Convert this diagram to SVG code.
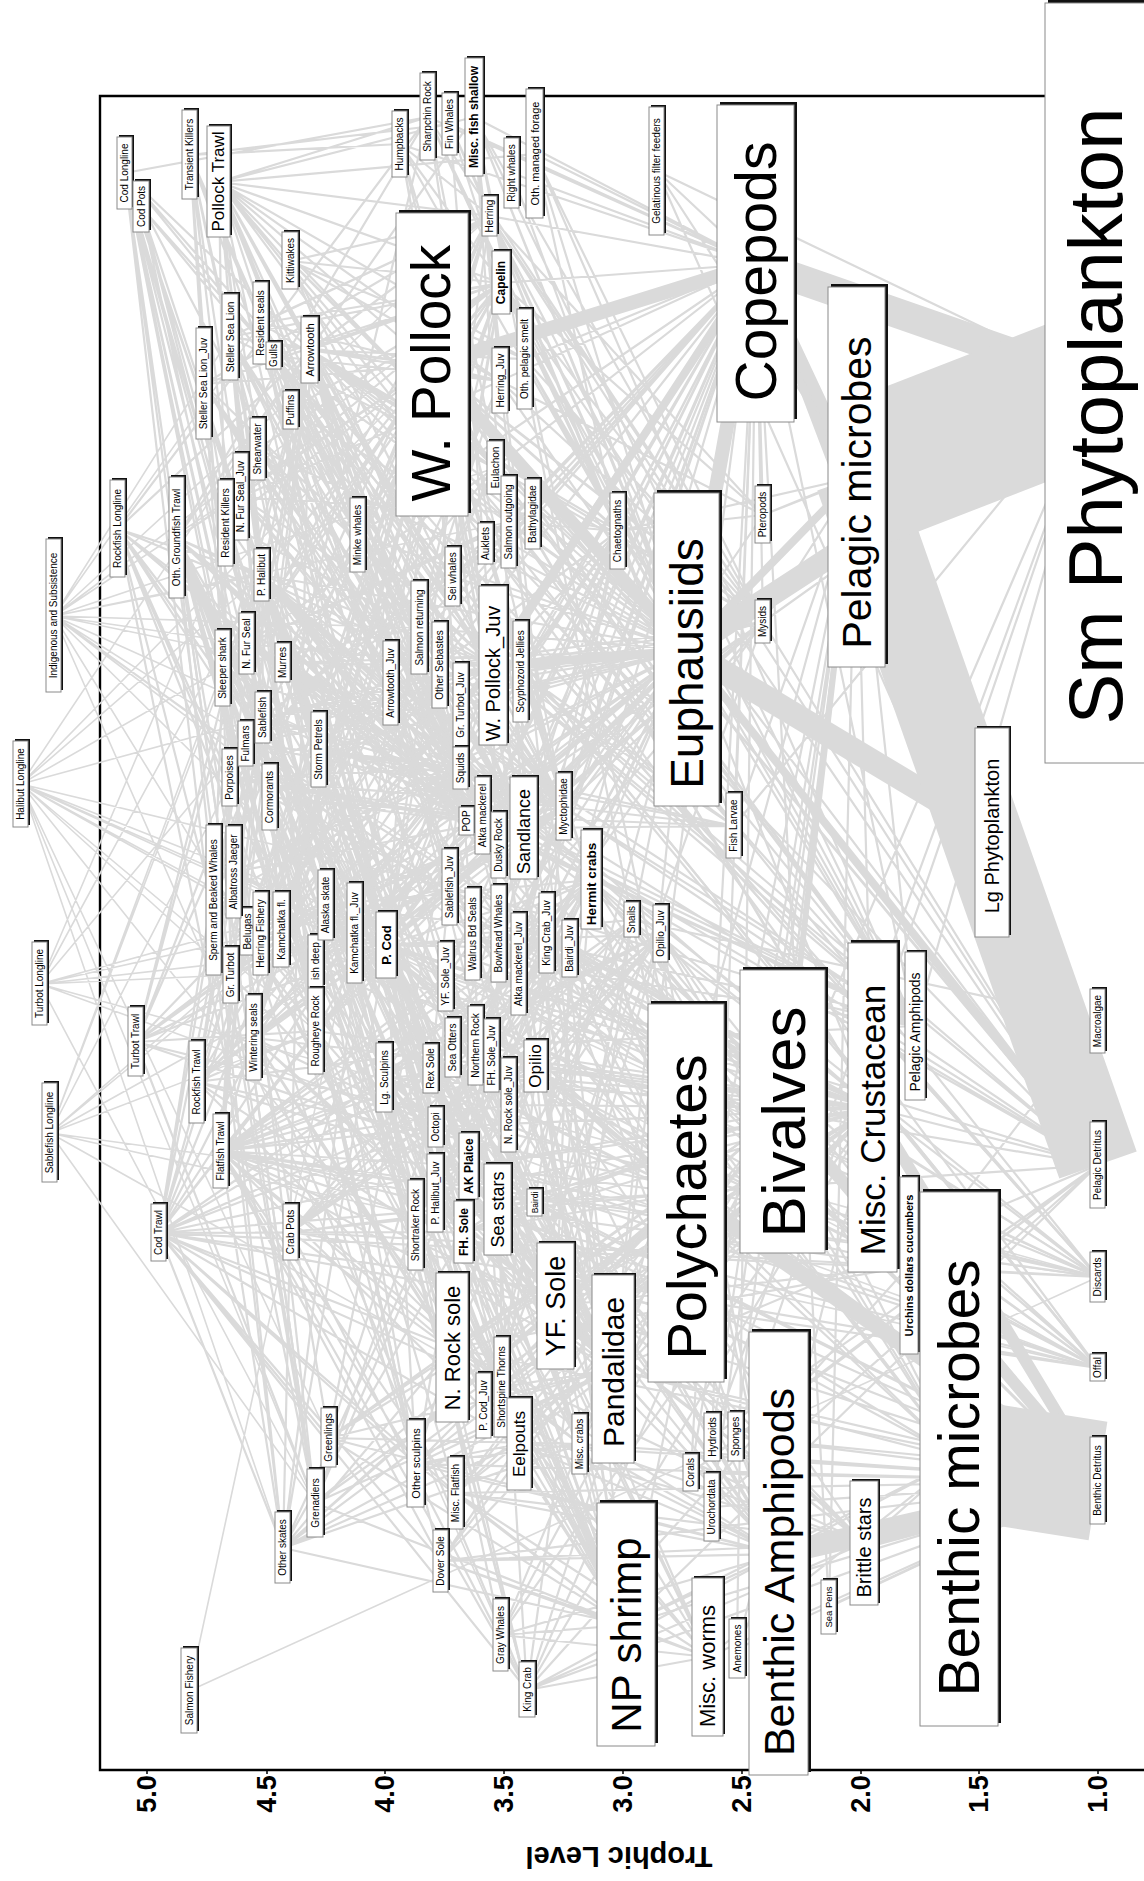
<svg xmlns="http://www.w3.org/2000/svg" width="1144" height="1881" viewBox="0 0 1144 1881">
<style>
.sh{fill:#111}
.bx{fill:#fff;stroke:#8a8a8a;stroke-width:1}
text{font-family:"Liberation Sans",Arial,Helvetica,sans-serif;text-anchor:middle;dominant-baseline:central;fill:#000}
.a{font-size:10px}
.b{font-size:11px}
.bd{font-weight:bold}
.l{fill:none;stroke:#dadada;stroke-width:2.2;stroke-linecap:round}
.f{stroke-width:1.6}
.w3{stroke-width:2.8}
.w6{stroke-width:6}
.w8{stroke-width:8;stroke-linecap:butt}
.w12{stroke-width:12;stroke-linecap:butt}
.w14{stroke-width:14;stroke-linecap:butt}
.w16{stroke-width:16;stroke-linecap:butt}
.w22{stroke-width:22;stroke-linecap:butt}
.w24{stroke-width:24;stroke-linecap:butt}
.w30{stroke-width:30;stroke-linecap:butt}
.w82{stroke-width:82;stroke-linecap:butt}
.w120{stroke-width:120;stroke-linecap:butt}
.w147{stroke-width:147;stroke-linecap:butt}
.ax{fill:none;stroke:#000;stroke-width:2.4}
.tk{font-size:27px;font-weight:bold}
</style>
<rect width="1144" height="1881" fill="#fff"/>
<g id="frame">
<path class="ax" d="M1160 96H100V1770H1160"/>
<path class="ax" style="stroke-width:1.5" d="M147 1770v4M267 1770v4M385 1770v4M504 1770v4M623 1770v4M742 1770v4M861 1770v4M979 1770v4M1098 1770v4"/>
</g>
<g id="connectors">
<path class="l f" d="M21 784L262 575M21 784L223 668M21 784L263 718M21 784L386 945M21 784L310 350M21 784L326 905M21 784L231 975M21 784L316 1031M21 784L315 1503M21 784L283 1548M21 784L281 930M21 784L1098 1277M21 784L1098 1368M54 616L230 337M54 616L261 323M54 616L490 216M54 616L419 628M54 616L262 575M54 616L386 945M54 616L248 932M54 616L473 934M54 616L499 934M54 616L247 644M54 616L283 663M54 616L527 1690M54 616L1098 1277M54 616L1098 1368M40 984L231 975M40 984L310 350M40 984L262 575M40 984L263 718M40 984L386 945M40 984L315 1503M40 984L326 905M40 984L281 930M40 984L1098 1277M40 984L1098 1368M50 1133L263 718M50 1133L231 975M50 1133L316 1031M50 1133L502 1387M50 1133L315 1503M50 1133L262 575M50 1133L326 905M50 1133L386 945M50 1133L223 668M50 1133L1098 1277M50 1133L1098 1368M189 1691L419 628M189 1691L1098 1277M21 784L432 365M21 784L329 1438M21 784L502 1387M21 784L450 887M54 616L432 365M54 616L501 283M54 616L524 828M54 616L495 468M54 616L509 522"/>
<path class="l" d="M125 173L386 945M125 173L262 575M125 173L263 718M125 173L231 975M125 173L310 350M125 173L326 905M125 173L281 930M125 173L283 1548M125 173L384 1078M125 173L416 1464M125 173L223 668M125 173L1098 1277M125 173L1098 1368M141 207L386 945M141 207L527 1690M141 207L416 1464M141 207L384 1078M141 207L1098 1277M141 207L1098 1368M219 182L432 365M219 182L493 666M219 182L490 216M219 182L501 283M219 182L483 816M219 182L386 945M219 182L310 350M219 182L461 768M219 182L316 1031M219 182L419 628M219 182L495 468M219 182L525 359M219 182L535 154M219 182L474 117M219 182L428 117M219 182L467 821M219 182L281 930M219 182L1098 1277M219 182L1098 1368M190 155L230 337M190 155L261 323M190 155L247 644M190 155L358 535M190 155L400 144M190 155L230 778M190 155L501 1635M190 155L248 932M190 155L473 934M190 155L204 384M190 155L241 497M190 155L450 124M190 155L254 1038M125 173L316 1031M125 173L315 1503M125 173L428 117M125 173L391 683M219 182L263 718M219 182L231 975M219 182L262 575M219 182L326 905M219 182L564 807M219 182L450 887M219 182L509 522M219 182L500 381"/>
<path class="l" d="M118 529L428 117M118 529L316 1031M118 529L502 1387M118 529L416 1225M118 529L440 665M118 529L499 845M118 529L467 821M118 529L476 1046M118 529L315 1503M118 529L1098 1277M118 529L1098 1368M177 538L440 665M177 538L499 845M177 538L428 117M177 538L476 1046M177 538L467 821M177 538L502 1387M177 538L416 1225M177 538L316 1031M177 538L315 1503M177 538L283 1548M177 538L329 1438M177 538L416 1464M177 538L384 1078M177 538L483 816M177 538L461 768M177 538L436 1127M177 538L474 117M177 538L316 960M177 538L1098 1277M177 538L1098 1368M136 1042L231 975M136 1042L310 350M136 1042L281 930M136 1042L326 905M136 1042L315 1503M136 1042L355 933M136 1042L461 705M136 1042L262 575M136 1042L1098 1277M136 1042L1098 1368M197 1082L467 821M197 1082L476 1046M197 1082L499 845M197 1082L316 1031M197 1082L416 1225M197 1082L428 117M197 1082L440 665M197 1082L483 816M197 1082L502 1387M197 1082L461 768M197 1082L1098 1277M197 1082L1098 1368M177 538L432 365M177 538L310 350M177 538L386 945M177 538L262 575M177 538L263 718M177 538L281 930M177 538L326 905M177 538L556 1306M177 538L452 1348M177 538L464 1232M177 538L469 1166M177 538L431 1069M177 538L441 1561M177 538L456 1493M118 529L386 945M118 529L262 575M118 529L263 718M118 529L231 975M118 529L310 350M136 1042L263 718M136 1042L316 1031M136 1042L386 945M136 1042L432 365M197 1082L386 945M197 1082L432 365M197 1082L310 350M197 1082L263 718"/>
<path class="l" d="M221 1151L556 1306M221 1151L452 1348M221 1151L464 1232M221 1151L469 1166M221 1151L431 1069M221 1151L441 1561M221 1151L456 1493M221 1151L386 945M221 1151L262 575M221 1151L310 350M221 1151L535 1202M221 1151L536 1066M221 1151L527 1690M221 1151L498 1210M221 1151L416 1464M221 1151L519 1444M221 1151L283 1548M221 1151L281 930M221 1151L1098 1277M221 1151L1098 1368M159 1233L386 945M159 1233L432 365M159 1233L262 575M159 1233L310 350M159 1233L263 718M159 1233L483 816M159 1233L556 1306M159 1233L452 1348M159 1233L464 1232M159 1233L326 905M159 1233L283 1548M159 1233L384 1078M159 1233L436 1127M159 1233L461 768M159 1233L469 1166M159 1233L431 1069M159 1233L1098 1277M159 1233L1098 1368M291 1232L527 1690M291 1232L535 1202M291 1232L536 1066M291 1232L547 933M291 1232L386 945M291 1232L591 880M291 1232L436 1127M291 1232L1098 1277M291 1232L1098 1368M261 934L490 216M261 934L500 381M261 934L501 283M261 934L1098 1277M261 934L1098 1368M221 1151L432 365M221 1151L263 718M221 1151L231 975M221 1151L492 1056M221 1151L446 977M221 1151L509 1105M221 1151L613 1369M221 1151L661 934M221 1151L547 933M221 1151L570 949M221 1151L591 880M221 1151L436 1127M221 1151L580 1444M159 1233L281 930M159 1233L231 975M159 1233L502 1387M159 1233L441 1561M159 1233L456 1493M159 1233L535 1202M159 1233L536 1066M159 1233L527 1690M159 1233L519 1444M159 1233L329 1438M159 1233L416 1464M291 1232L661 934M291 1232L570 949M291 1232L580 1444M291 1232L498 1210M291 1232L632 920"/>
<path class="l" d="M400 144L687 650M400 144L756 264M400 144L501 283M400 144L490 216M400 144L524 828M400 144L493 666M400 144L495 468M400 144L564 807M450 124L687 650M450 124L756 264M450 124L501 283M450 124L490 216M450 124L493 666M512 173L756 264M512 173L687 650M428 117L687 650M428 117L756 264M428 117L564 807M428 117L613 1369M428 117L618 531M428 117L763 622M474 117L687 650M474 117L756 264M474 117L873 1108M474 117L915 1026M474 117L779 1554M474 117L686 1193M474 117L763 622M535 154L687 650M535 154L756 264M535 154L915 1026M535 154L763 622M535 154L618 531M490 216L756 264M490 216L687 650M490 216L915 1026M490 216L618 531M490 216L734 826M490 216L763 515M490 216L763 622M501 283L756 264M501 283L687 650M501 283L915 1026M501 283L618 531M501 283L763 622M501 283L763 515M500 381L756 264M500 381L687 650M500 381L763 515M500 381L763 622M525 359L756 264M525 359L687 650M525 359L763 622M525 359L915 1026M657 171L856 477M657 171L1098 383M657 171L756 264M657 171L1098 1165M495 468L687 650M495 468L756 264M495 468L763 622M495 468L915 1026M474 117L613 1369M474 117L626 1625M474 117L524 828"/>
<path class="l" d="M290 261L501 283M290 261L524 828M290 261L500 381M290 261L564 807M290 261L493 666M290 261L687 650M290 261L525 359M290 261L495 468M290 261L490 216M230 337L432 365M230 337L483 816M230 337L386 945M230 337L490 216M230 337L524 828M230 337L419 628M230 337L461 768M230 337L501 283M230 337L495 468M230 337L436 1127M230 337L310 350M261 323L432 365M261 323L386 945M261 323L490 216M261 323L524 828M261 323L436 1127M261 323L461 768M261 323L501 283M261 323L495 468M261 323L419 628M274 356L493 666M274 356L524 828M274 356L501 283M274 356L500 381M274 356L564 807M274 356L687 650M274 356L1098 1368M274 356L1098 1277M310 350L432 365M310 350L493 666M310 350L687 650M310 350L501 283M310 350L500 381M310 350L461 768M310 350L564 807M310 350L613 1369M310 350L524 828M310 350L391 683M310 350L763 622M310 350L533 514M310 350L495 468M310 350L525 359M310 350L626 1625M310 350L490 216M310 350L618 531M204 384L432 365M204 384L493 666M204 384L524 828M204 384L501 283M204 384L490 216M204 384L461 768M204 384L483 816M291 410L493 666M291 410L524 828M291 410L501 283M291 410L564 807M291 410L687 650M291 410L461 768M258 449L687 650M258 449L524 828M258 449L564 807M258 449L461 768M258 449L493 666M258 449L501 283M241 497L493 666M241 497L461 768M241 497L524 828M241 497L501 283M241 497L533 514M241 497L564 807M241 497L500 381M226 523L419 628M226 523L386 945M226 523L262 575M226 523L263 718M226 523L432 365M358 535L687 650M358 535L756 264M358 535L493 666M358 535L501 283M358 535L524 828M358 535L490 216M230 337L467 821M230 337L499 845M230 337L476 1046M230 337L316 1031M230 337L263 718M230 337L281 930M230 337L262 575M261 323L483 816M261 323L467 821M261 323L519 1444M261 323L626 1625M261 323L613 1369M261 323L493 666M310 350L483 816M310 350L467 821M310 350L440 665M310 350L509 522M310 350L450 887M358 535L564 807M204 384L467 821M204 384L316 1031"/>
<path class="l" d="M262 575L432 365M262 575L386 945M262 575L310 350M262 575L613 1369M262 575L873 1108M262 575L452 1348M262 575L556 1306M262 575L464 1232M262 575L524 828M262 575L436 1127M262 575L461 768M262 575L493 666M262 575L591 880M262 575L626 1625M262 575L469 1166M262 575L431 1069M262 575L536 1066M262 575L535 1202M262 575L527 1690M262 575L263 718M223 668L432 365M223 668L461 768M223 668L263 718M223 668L310 350M223 668L419 628M223 668L315 1503M223 668L436 1127M223 668L467 821M247 644L493 666M247 644L461 768M247 644L524 828M247 644L501 283M247 644L490 216M247 644L483 816M247 644L509 522M247 644L533 514M247 644L564 807M283 663L493 666M283 663L524 828M283 663L501 283M283 663L687 650M283 663L564 807M283 663L461 768M283 663L613 1369M230 778L493 666M230 778L490 216M230 778L501 283M230 778L461 768M230 778L524 828M230 778L495 468M230 778L564 807M246 744L461 768M246 744L564 807M246 744L687 650M246 744L1098 1368M246 744L1098 1277M246 744L493 666M246 744L533 514M263 718L461 768M263 718L493 666M263 718L564 807M263 718L687 650M263 718L613 1369M263 718L509 522M263 718L533 514M263 718L436 1127M263 718L483 816M263 718L391 683M270 797L524 828M270 797L493 666M270 797L519 1444M270 797L416 1464M270 797L873 1108M270 797L626 1625M319 750L687 650M319 750L564 807M319 750L756 264M319 750L915 1026M319 750L734 826M319 750L461 768M214 900L461 768M214 900L223 668M214 900L315 1503M214 900L316 1031M214 900L263 718M234 872L461 768M234 872L564 807M234 872L687 650M234 872L1098 1277M234 872L1098 1368M248 932L419 628M248 932L490 216M248 932L626 1625M248 932L386 945M248 932L524 828M248 932L436 1127M248 932L495 468M262 575L547 933M262 575L570 949M262 575L661 934M262 575L519 1444M262 575L416 1464M262 575L580 1444M262 575L498 1210M262 575L686 1193M262 575L783 1112M262 575L483 816M262 575L467 821M262 575L499 845M262 575L316 1031M262 575L564 807M262 575L687 650M223 668L386 945M223 668L281 930M223 668L231 975M223 668L262 575M214 900L432 365M214 900L310 350M214 900L386 945M247 644L432 365M247 644L495 468M247 644L467 821M283 663L483 816M283 663L490 216M230 778L483 816M230 778L467 821M270 797L484 1406M270 797L613 1369M270 797L483 816M248 932L613 1369M248 932L519 1444M248 932L416 1464"/>
<path class="l" d="M281 930L432 365M281 930L493 666M281 930L613 1369M281 930L626 1625M281 930L687 650M281 930L501 283M281 930L564 807M281 930L461 768M326 905L432 365M326 905L386 945M326 905L626 1625M326 905L613 1369M326 905L873 1108M326 905L461 768M326 905L591 880M326 905L536 1066M326 905L535 1202M326 905L519 1444M326 905L686 1193M326 905L493 666M326 905L547 933M355 933L687 650M355 933L613 1369M355 933L763 622M355 933L626 1625M355 933L873 1108M355 933L564 807M386 945L432 365M386 945L493 666M386 945L613 1369M386 945L626 1625M386 945L536 1066M386 945L535 1202M386 945L591 880M386 945L873 1108M386 945L686 1193M386 945L524 828M386 945L547 933M386 945L519 1444M386 945L416 1464M386 945L464 1232M386 945L556 1306M386 945L452 1348M386 945L469 1166M386 945L483 816M386 945L461 768M386 945L436 1127M386 945L580 1444M386 945L783 1112M231 975L432 365M231 975L493 666M231 975L461 768M231 975L564 807M231 975L533 514M231 975L613 1369M231 975L687 650M231 975L391 683M231 975L315 1503M254 1038L432 365M254 1038L386 945M254 1038L436 1127M254 1038L461 768M254 1038L524 828M254 1038L626 1625M254 1038L613 1369M254 1038L873 1108M254 1038L519 1444M316 1031L687 650M316 1031L613 1369M316 1031L626 1625M316 1031L564 807M316 1031L873 1108M316 1031L461 768M316 960L687 650M316 960L613 1369M316 960L626 1625M316 960L873 1108M316 960L564 807M316 960L618 531M384 1078L613 1369M384 1078L626 1625M384 1078L873 1108M384 1078L591 880M384 1078L536 1066M384 1078L535 1202M384 1078L524 828M384 1078L686 1193M384 1078L580 1444M386 945L450 887M386 945L484 1406M386 945L435 1193M386 945L461 705M386 945L446 977M386 945L492 1056M386 945L509 1105M386 945L498 1210M386 945L570 949M386 945L661 934M386 945L499 845M386 945L476 1046M386 945L467 821M386 945L564 807M386 945L687 650M386 945L501 283M386 945L490 216M326 905L556 1306M326 905L452 1348M326 905L464 1232M326 905L779 1554M326 905L527 1690M254 1038L452 1348M254 1038L556 1306M254 1038L464 1232M254 1038L527 1690M254 1038L501 283M254 1038L490 216M254 1038L483 816M281 930L391 683M281 930L461 705M281 930L450 887M281 930L483 816M281 930L524 828M281 930L490 216M231 975L281 930M231 975L310 350M231 975L263 718M231 975L461 705M231 975L450 887M231 975L440 665M384 1078L556 1306M384 1078L452 1348M384 1078L547 933M384 1078L570 949M384 1078L661 934M384 1078L498 1210"/>
<path class="l" d="M329 1438L524 828M329 1438L613 1369M329 1438L626 1625M329 1438L873 1108M329 1438L686 1193M329 1438L779 1554M329 1438L580 1444M283 1548L613 1369M283 1548L626 1625M283 1548L873 1108M283 1548L686 1193M283 1548L580 1444M283 1548L519 1444M283 1548L591 880M283 1548L432 365M315 1503L461 768M315 1503L687 650M315 1503L613 1369M315 1503L626 1625M315 1503L873 1108M315 1503L564 807M315 1503L686 1193M416 1464L613 1369M416 1464L626 1625M416 1464L873 1108M416 1464L686 1193M416 1464L779 1554M416 1464L591 880M416 1464L580 1444M456 1493L686 1193M456 1493L783 1112M456 1493L779 1554M456 1493L873 1108M456 1493L626 1625M456 1493L708 1657M456 1493L864 1543M441 1561L686 1193M441 1561L779 1554M441 1561L783 1112M441 1561L708 1657M441 1561L864 1543M441 1561L873 1108M441 1561L626 1625M501 1635L779 1554M501 1635L686 1193M501 1635L873 1108M501 1635L783 1112M501 1635L708 1657M501 1635L626 1625M527 1690L783 1112M527 1690L686 1193M527 1690L864 1543M527 1690L909 1266M527 1690L708 1657M527 1690L779 1554M527 1690L873 1108M527 1690L632 920M527 1690L1098 1481M527 1690L498 1210M580 1444L686 1193M580 1444L783 1112M580 1444L779 1554M580 1444L1098 1481M580 1444L708 1657M580 1444L864 1543M519 1444L686 1193M519 1444L783 1112M519 1444L779 1554M519 1444L873 1108M519 1444L626 1625M519 1444L708 1657M519 1444L613 1369M519 1444L864 1543M484 1406L626 1625M484 1406L873 1108M484 1406L779 1554M484 1406L613 1369M484 1406L686 1193M484 1406L687 650M484 1406L763 622M502 1387L613 1369M502 1387L626 1625M502 1387L873 1108M502 1387L686 1193M502 1387L564 807M502 1387L493 666M502 1387L519 1444M502 1387L591 880M502 1387L461 768M283 1548L386 945M283 1548L310 350M283 1548L556 1306M283 1548L452 1348M283 1548L464 1232M283 1548L783 1112M329 1438L783 1112M416 1464L519 1444M416 1464L524 828M456 1493L613 1369M456 1493L661 934M452 1348L1098 1481M464 1232L1098 1481M469 1166L1098 1481M519 1444L1098 1481M416 1464L1098 1481M441 1561L1098 1481M456 1493L1098 1481"/>
<path class="l" d="M626 1625L959 1459M626 1625L1098 1481M626 1625L708 1657M626 1625L1098 1165M626 1625L779 1554M626 1625L856 477M708 1657L1098 1481M708 1657L959 1459M737 1649L1098 1481M737 1649L873 1108M737 1649L779 1554M737 1649L756 264M691 1473L756 264M691 1473L856 477M691 1473L1098 1165M691 1473L1098 1481M712 1507L856 477M712 1507L1098 383M712 1507L1098 1165M712 1507L1098 1481M712 1437L756 264M712 1437L856 477M712 1437L1098 383M712 1437L1098 1165M736 1437L856 477M736 1437L959 1459M736 1437L1098 1165M736 1437L1098 1481M613 1369L959 1459M613 1369L1098 1481M613 1369L686 1193M613 1369L779 1554M613 1369L873 1108M613 1369L856 477M613 1369L756 264M613 1369L687 650M452 1348L686 1193M452 1348L783 1112M452 1348L779 1554M452 1348L873 1108M452 1348L708 1657M452 1348L864 1543M452 1348L632 920M452 1348L909 1266M452 1348L591 880M446 977L779 1554M446 977L873 1108M446 977L686 1193M446 977L756 264M446 977L687 650M473 934L783 1112M473 934L686 1193M473 934L632 920M473 934L873 1108M473 934L909 1266M473 934L591 880M499 934L756 264M499 934L687 650M499 934L915 1026M499 934L763 622M499 934L873 1108M519 964L756 264M519 964L687 650M519 964L915 1026M519 964L763 622M519 964L618 531M547 933L959 1459M547 933L686 1193M547 933L783 1112M547 933L873 1108M547 933L1098 1481M547 933L779 1554M570 949L959 1459M570 949L686 1193M570 949L783 1112M570 949L1098 1481M570 949L779 1554M570 949L873 1108M661 934L959 1459M661 934L686 1193M661 934L783 1112M661 934L1098 1481M661 934L779 1554M632 920L1098 1481M632 920L959 1459M632 920L686 1193M632 920L1098 1021"/>
<path class="l" d="M431 1069L686 1193M431 1069L779 1554M431 1069L873 1108M431 1069L783 1112M431 1069L708 1657M431 1069L626 1625M453 1048L909 1266M453 1048L783 1112M453 1048L591 880M453 1048L632 920M453 1048L436 1127M453 1048L498 1210M453 1048L536 1066M453 1048L535 1202M476 1046L687 650M476 1046L756 264M476 1046L613 1369M476 1046L873 1108M476 1046L564 807M476 1046L915 1026M492 1056L779 1554M492 1056L756 264M492 1056L873 1108M492 1056L686 1193M492 1056L687 650M509 1105L779 1554M509 1105L756 264M509 1105L686 1193M509 1105L873 1108M536 1066L686 1193M536 1066L783 1112M536 1066L779 1554M536 1066L873 1108M536 1066L959 1459M536 1066L1098 1481M536 1066L632 920M536 1066L864 1543M536 1066L661 934M536 1066L591 880M436 1127L591 880M436 1127L547 933M436 1127L570 949M436 1127L661 934M436 1127L873 1108M436 1127L613 1369M436 1127L783 1112M436 1127L632 920M469 1166L686 1193M469 1166L783 1112M469 1166L779 1554M469 1166L873 1108M469 1166L864 1543M469 1166L708 1657M435 1193L613 1369M435 1193L626 1625M435 1193L873 1108M435 1193L524 828M435 1193L591 880M435 1193L580 1444M435 1193L446 977M416 1225L613 1369M416 1225L626 1625M416 1225L873 1108M416 1225L564 807M416 1225L461 768M416 1225L687 650M464 1232L686 1193M464 1232L613 1369M464 1232L626 1625M464 1232L779 1554M464 1232L873 1108M464 1232L783 1112M464 1232L661 934M464 1232L864 1543M498 1210L783 1112M498 1210L632 920M498 1210L686 1193M498 1210L909 1266M498 1210L864 1543M498 1210L1098 1481M498 1210L959 1459M535 1202L686 1193M535 1202L783 1112M535 1202L779 1554M535 1202L1098 1481M535 1202L959 1459M535 1202L864 1543M556 1306L686 1193M556 1306L783 1112M556 1306L779 1554M556 1306L873 1108M556 1306L864 1543M556 1306L708 1657M556 1306L626 1625M556 1306L687 650M556 1306L661 934M556 1306L591 880M556 1306L1098 1481M435 1193L547 933M435 1193L570 949M435 1193L661 934M435 1193L498 1210M556 1306L632 920M556 1306L547 933M556 1306L570 949M556 1306L536 1066M556 1306L498 1210M556 1306L909 1266M464 1232L536 1066M464 1232L535 1202M464 1232L547 933M464 1232L498 1210M469 1166L661 934M469 1166L632 920M469 1166L909 1266M453 1048L547 933M453 1048L570 949M453 1048L661 934M453 1048L580 1444M453 1048L613 1369"/>
<path class="l" d="M686 1193L959 1459M686 1193L1098 1165M783 1112L1098 383M783 1112L1098 1165M783 1112L959 1459M779 1554L959 1459M873 1108L959 1459M873 1108L1098 1165M873 1108L856 477M915 1026L756 264M915 1026L856 477M915 1026L687 650M915 1026L1098 383M909 1266L1098 1021M909 1266L1098 1481M909 1266L959 1459M829 1607L1098 1481M829 1607L856 477M829 1607L756 264M864 1543L959 1459M391 683L687 650M391 683L756 264M391 683L564 807M391 683L493 666M391 683L763 622M391 683L613 1369M419 628L687 650M419 628L756 264M419 628L501 283M419 628L500 381M419 628L493 666M419 628L461 768M419 628L564 807M419 628L524 828M440 665L687 650M440 665L756 264M440 665L564 807M440 665L613 1369M440 665L618 531M440 665L763 622M453 577L756 264M453 577L687 650M453 577L501 283M486 544L756 264M486 544L687 650M486 544L915 1026M486 544L564 807M486 544L734 826M509 522L687 650M509 522L756 264M509 522L915 1026M509 522L734 826M509 522L618 531M533 514L756 264M533 514L687 650M533 514L618 531M533 514L915 1026M618 531L756 264M618 531L856 477M618 531L1098 1165M493 666L915 1026M493 666L763 622M493 666L618 531M493 666L734 826M493 666L1098 1165M521 672L756 264M521 672L687 650M521 672L493 666M521 672L734 826M521 672L915 1026M521 672L618 531M521 672L1098 1165M461 705L687 650M461 705L756 264M461 705L763 622M461 705L564 807M461 768L687 650M461 768L756 264M461 768L564 807M461 768L493 666M461 768L618 531M467 821L687 650M467 821L756 264M467 821L618 531M467 821L564 807M467 821L915 1026M483 816L756 264M483 816L687 650M483 816L915 1026M483 816L618 531M483 816L734 826M483 816L763 622M499 845L687 650M499 845L756 264M499 845L763 622M524 828L756 264M524 828L687 650M524 828L915 1026M524 828L734 826M564 807L756 264M564 807L687 650M564 807L915 1026M564 807L618 531M564 807L1098 1165M591 880L1098 1481M591 880L959 1459M591 880L686 1193M591 880L783 1112M591 880L873 1108M450 887L687 650M450 887L756 264M450 887L564 807M450 887L915 1026M734 826L756 264M734 826L856 477M734 826L1098 383M763 622L756 264M763 622L856 477M763 622L1098 1165M763 622L1098 383M763 515L856 477M763 515L1098 383M763 515L756 264M461 768L613 1369M461 768L524 828M461 768L734 826M564 807L763 622M564 807L734 826M564 807L763 515M524 828L763 622M524 828L618 531M618 531L734 826M618 531L763 515M521 672L564 807M521 672L524 828M521 672L763 622M450 887L618 531M450 887L763 622M391 683L524 828M391 683L915 1026M419 628L483 816M419 628L495 468M591 880L632 920M591 880L909 1266M310 350L1098 1165M386 945L1098 1165M524 828L1098 1165M490 216L1098 1165M501 283L1098 1165M461 768L1098 1165M483 816L1098 1165M613 1369L1098 1165"/>
<path class="l w3" d="M432 365L613 1369M432 365L763 622M432 365L915 1026M432 365L618 531M432 365L564 807M432 365L461 768M432 365L524 828M432 365L501 283M432 365L626 1625M432 365L873 1108M432 365L686 1193M432 365L500 381M432 365L1098 1165"/>
<path class="l w6" d="M783 1112L856 477M756 264L992 833"/>
<path class="l w8" d="M493 666L756 264M493 666L687 650M756 264L1098 1165M687 650L1098 1165M687 650L856 477"/>
<path class="l w12" d="M432 365L687 650M756 264L856 477M783 1112L1098 1481M873 1108L1098 1481M864 1543L1098 1481"/>
<path class="l w14" d="M432 365L756 264M687 650L756 264"/>
<path class="l w16" d="M686 1193L1098 1481"/>
<path class="l w22" d="M779 1554L1098 1481M687 650L1098 383"/>
<path class="l w24" d="M687 650L992 833"/>
<path class="l w30" d="M756 264L1098 383"/>
<path class="l w120" d="M959 1459L1098 1481"/>
<path class="l w82" d="M856 477L1098 1165"/>
<path class="l w147" d="M856 477L1098 383"/>
</g>
<g id="nodes">
<g id="cod-longline"><rect class="sh" x="119" y="135" width="15" height="72"/><rect class="bx" x="117" y="137" width="15" height="72"/><text class="a" transform="translate(124.5 173)rotate(-90)">Cod Longline</text></g>
<g id="cod-pots"><rect class="sh" x="135" y="179" width="16" height="51"/><rect class="bx" x="133" y="181" width="16" height="51"/><text class="a" transform="translate(141 206.5)rotate(-90)">Cod Pots</text></g>
<g id="transient-killers"><rect class="sh" x="184" y="108" width="15" height="89"/><rect class="bx" x="182" y="110" width="15" height="89"/><text class="a" transform="translate(189.5 154.5)rotate(-90)">Transient Killers</text></g>
<g id="pollock-trawl"><rect class="sh" x="209" y="124" width="23" height="111"/><rect class="bx" x="207" y="126" width="23" height="111"/><text font-size="17" transform="translate(218.5 181.5)rotate(-90)">Pollock Trawl</text></g>
<g id="kittiwakes"><rect class="sh" x="284" y="230" width="16" height="57"/><rect class="bx" x="282" y="232" width="16" height="57"/><text class="a" transform="translate(290 260.5)rotate(-90)">Kittiwakes</text></g>
<g id="steller-sea-lion"><rect class="sh" x="224" y="292" width="16" height="86"/><rect class="bx" x="222" y="294" width="16" height="86"/><text class="a" transform="translate(230 337)rotate(-90)">Steller Sea Lion</text></g>
<g id="resident-seals"><rect class="sh" x="255" y="280" width="15" height="82"/><rect class="bx" x="253" y="282" width="15" height="82"/><text class="a" transform="translate(260.5 323)rotate(-90)">Resident seals</text></g>
<g id="gulls"><rect class="sh" x="268" y="340" width="15" height="27"/><rect class="bx" x="266" y="342" width="15" height="27"/><text class="a" transform="translate(273.5 355.5)rotate(-90)">Gulls</text></g>
<g id="arrowtooth"><rect class="sh" x="303" y="315" width="17" height="66"/><rect class="bx" x="301" y="317" width="17" height="66"/><text class="b" transform="translate(309.5 350)rotate(-90)">Arrowtooth</text></g>
<g id="steller-sea-lion-juv"><rect class="sh" x="198" y="326" width="15" height="111"/><rect class="bx" x="196" y="328" width="15" height="111"/><text class="a" transform="translate(203.5 383.5)rotate(-90)">Steller Sea Lion_Juv</text></g>
<g id="puffins"><rect class="sh" x="285" y="389" width="15" height="38"/><rect class="bx" x="283" y="391" width="15" height="38"/><text class="a" transform="translate(290.5 410)rotate(-90)">Puffins</text></g>
<g id="shearwater"><rect class="sh" x="252" y="416" width="15" height="62"/><rect class="bx" x="250" y="418" width="15" height="62"/><text class="a" transform="translate(257.5 449)rotate(-90)">Shearwater</text></g>
<g id="n-fur-seal-juv"><rect class="sh" x="235" y="451" width="15" height="87"/><rect class="bx" x="233" y="453" width="15" height="87"/><text class="a" transform="translate(240.5 496.5)rotate(-90)">N. Fur Seal_Juv</text></g>
<g id="humpbacks"><rect class="sh" x="394" y="109" width="15" height="66"/><rect class="bx" x="392" y="111" width="15" height="66"/><text class="a" transform="translate(399.5 144)rotate(-90)">Humpbacks</text></g>
<g id="sharpchin-rock"><rect class="sh" x="422" y="71" width="15" height="87"/><rect class="bx" x="420" y="73" width="15" height="87"/><text class="a" transform="translate(427.5 116.5)rotate(-90)">Sharpchin Rock</text></g>
<g id="fin-whales"><rect class="sh" x="444" y="91" width="15" height="62"/><rect class="bx" x="442" y="93" width="15" height="62"/><text class="a" transform="translate(449.5 124)rotate(-90)">Fin Whales</text></g>
<g id="misc-fish-shallow"><rect class="sh" x="467" y="56" width="18" height="118"/><rect class="bx" x="465" y="58" width="18" height="118"/><text class="bd" font-size="12" transform="translate(474 117)rotate(-90)">Misc. fish shallow</text></g>
<g id="right-whales"><rect class="sh" x="506" y="136" width="15" height="70"/><rect class="bx" x="504" y="138" width="15" height="70"/><text class="a" transform="translate(511.5 173)rotate(-90)">Right whales</text></g>
<g id="oth-managed-forage"><rect class="sh" x="528" y="87" width="17" height="129"/><rect class="bx" x="526" y="89" width="17" height="129"/><text class="b" transform="translate(534.5 153.5)rotate(-90)">Oth. managed forage</text></g>
<g id="herring"><rect class="sh" x="484" y="194" width="15" height="40"/><rect class="bx" x="482" y="196" width="15" height="40"/><text class="a" transform="translate(489.5 216)rotate(-90)">Herring</text></g>
<g id="capelin"><rect class="sh" x="494" y="249" width="18" height="63"/><rect class="bx" x="492" y="251" width="18" height="63"/><text class="bd" font-size="12" transform="translate(501 282.5)rotate(-90)">Capelin</text></g>
<g id="herring-juv"><rect class="sh" x="494" y="346" width="16" height="65"/><rect class="bx" x="492" y="348" width="16" height="65"/><text class="a" transform="translate(500 380.5)rotate(-90)">Herring_Juv</text></g>
<g id="oth-pelagic-smelt"><rect class="sh" x="519" y="307" width="15" height="100"/><rect class="bx" x="517" y="309" width="15" height="100"/><text class="a" transform="translate(524.5 359)rotate(-90)">Oth. pelagic smelt</text></g>
<g id="gelatinous-filter-feeders"><rect class="sh" x="651" y="105" width="15" height="128"/><rect class="bx" x="649" y="107" width="15" height="128"/><text class="a" transform="translate(656.5 171)rotate(-90)">Gelatinous filter feeders</text></g>
<g id="w-pollock"><rect class="sh" x="399" y="210" width="72" height="303"/><rect class="bx" x="396" y="213" width="72" height="303"/><text font-size="55" transform="translate(431 373)rotate(-90)">W. Pollock</text></g>
<g id="eulachon"><rect class="sh" x="489" y="439" width="16" height="53"/><rect class="bx" x="487" y="441" width="16" height="53"/><text class="a" transform="translate(495 467.5)rotate(-90)">Eulachon</text></g>
<g id="copepods"><rect class="sh" x="720" y="102" width="77" height="317"/><rect class="bx" x="717" y="105" width="77" height="317"/><text font-size="57" transform="translate(756 271.5)rotate(-90)">Copepods</text></g>
<g id="sm-phytoplankton"><rect class="sh" x="1048" y="0" width="120" height="760"/><rect class="bx" x="1045" y="3" width="120" height="760"/><text font-size="76" transform="translate(1095 416)rotate(-90)">Sm Phytoplankton</text></g>
<g id="pelagic-microbes"><rect class="sh" x="831" y="284" width="57" height="380"/><rect class="bx" x="828" y="287" width="57" height="380"/><text font-size="41" transform="translate(857 492.5)rotate(-90)">Pelagic microbes</text></g>
<g id="rockfish-longline"><rect class="sh" x="112" y="478" width="15" height="97"/><rect class="bx" x="110" y="480" width="15" height="97"/><text class="a" transform="translate(117.5 528.5)rotate(-90)">Rockfish Longline</text></g>
<g id="indigenous-and-subsistence"><rect class="sh" x="48" y="537" width="15" height="153"/><rect class="bx" x="46" y="539" width="15" height="153"/><text class="a" transform="translate(53.5 615.5)rotate(-90)">Indigenous and Subsistence</text></g>
<g id="oth-groundfish-trawl"><rect class="sh" x="171" y="475" width="15" height="121"/><rect class="bx" x="169" y="477" width="15" height="121"/><text class="a" transform="translate(176.5 537.5)rotate(-90)">Oth. Groundfish Trawl</text></g>
<g id="resident-killers"><rect class="sh" x="220" y="478" width="15" height="86"/><rect class="bx" x="218" y="480" width="15" height="86"/><text class="a" transform="translate(225.5 523)rotate(-90)">Resident Killers</text></g>
<g id="minke-whales"><rect class="sh" x="352" y="496" width="15" height="74"/><rect class="bx" x="350" y="498" width="15" height="74"/><text class="a" transform="translate(357.5 535)rotate(-90)">Minke whales</text></g>
<g id="p-halibut"><rect class="sh" x="256" y="547" width="15" height="52"/><rect class="bx" x="254" y="549" width="15" height="52"/><text class="a" transform="translate(261.5 575)rotate(-90)">P. Halibut</text></g>
<g id="sleeper-shark"><rect class="sh" x="217" y="628" width="15" height="76"/><rect class="bx" x="215" y="630" width="15" height="76"/><text class="a" transform="translate(222.5 668)rotate(-90)">Sleeper shark</text></g>
<g id="n-fur-seal"><rect class="sh" x="241" y="611" width="15" height="61"/><rect class="bx" x="239" y="613" width="15" height="61"/><text class="a" transform="translate(246.5 643.5)rotate(-90)">N. Fur Seal</text></g>
<g id="murres"><rect class="sh" x="277" y="641" width="15" height="39"/><rect class="bx" x="275" y="643" width="15" height="39"/><text class="a" transform="translate(282.5 662.5)rotate(-90)">Murres</text></g>
<g id="halibut-longline"><rect class="sh" x="15" y="739" width="15" height="86"/><rect class="bx" x="13" y="741" width="15" height="86"/><text class="a" transform="translate(20.5 784)rotate(-90)">Halibut Longline</text></g>
<g id="porpoises"><rect class="sh" x="224" y="747" width="15" height="57"/><rect class="bx" x="222" y="749" width="15" height="57"/><text class="a" transform="translate(229.5 777.5)rotate(-90)">Porpoises</text></g>
<g id="fulmars"><rect class="sh" x="240" y="719" width="15" height="45"/><rect class="bx" x="238" y="721" width="15" height="45"/><text class="a" transform="translate(245.5 743.5)rotate(-90)">Fulmars</text></g>
<g id="sablefish"><rect class="sh" x="257" y="690" width="15" height="51"/><rect class="bx" x="255" y="692" width="15" height="51"/><text class="a" transform="translate(262.5 717.5)rotate(-90)">Sablefish</text></g>
<g id="cormorants"><rect class="sh" x="264" y="762" width="15" height="66"/><rect class="bx" x="262" y="764" width="15" height="66"/><text class="a" transform="translate(269.5 797)rotate(-90)">Cormorants</text></g>
<g id="storm-petrels"><rect class="sh" x="313" y="710" width="15" height="75"/><rect class="bx" x="311" y="712" width="15" height="75"/><text class="a" transform="translate(318.5 749.5)rotate(-90)">Storm Petrels</text></g>
<g id="sperm-and-beaked-whales"><rect class="sh" x="208" y="823" width="15" height="150"/><rect class="bx" x="206" y="825" width="15" height="150"/><text class="a" transform="translate(213.5 900)rotate(-90)">Sperm and Beaked Whales</text></g>
<g id="belugas"><rect class="sh" x="242" y="906" width="15" height="47"/><rect class="bx" x="240" y="908" width="15" height="47"/><text class="a" transform="translate(247.5 931.5)rotate(-90)">Belugas</text></g>
<g id="albatross-jaeger"><rect class="sh" x="228" y="824" width="15" height="92"/><rect class="bx" x="226" y="826" width="15" height="92"/><text class="a" transform="translate(233.5 872)rotate(-90)">Albatross Jaeger</text></g>
<g id="herring-fishery"><rect class="sh" x="255" y="890" width="15" height="83"/><rect class="bx" x="253" y="892" width="15" height="83"/><text class="a" transform="translate(260.5 933.5)rotate(-90)">Herring Fishery</text></g>
<g id="kamchatka-fl"><rect class="sh" x="275" y="890" width="16" height="75"/><rect class="bx" x="273" y="892" width="16" height="75"/><text class="a" transform="translate(281 929.5)rotate(-90)">Kamchatka fl.</text></g>
<g id="misc-fish-deep"><rect class="sh" x="310" y="933" width="15" height="52"/><rect class="bx" x="308" y="935" width="15" height="52"/><text class="a" transform="translate(315.5 961)rotate(-90)">ish deep</text></g>
<g id="alaska-skate"><rect class="sh" x="320" y="868" width="15" height="70"/><rect class="bx" x="318" y="870" width="15" height="70"/><text class="a" transform="translate(325.5 905)rotate(-90)">Alaska skate</text></g>
<g id="kamchatka-fl-juv"><rect class="sh" x="349" y="881" width="15" height="100"/><rect class="bx" x="347" y="883" width="15" height="100"/><text class="a" transform="translate(354.5 933)rotate(-90)">Kamchatka fl._Juv</text></g>
<g id="p-cod"><rect class="sh" x="378" y="910" width="20" height="66"/><rect class="bx" x="376" y="912" width="20" height="66"/><text class="bd" font-size="13" transform="translate(386 945)rotate(-90)">P. Cod</text></g>
<g id="turbot-longline"><rect class="sh" x="34" y="940" width="15" height="83"/><rect class="bx" x="32" y="942" width="15" height="83"/><text class="a" transform="translate(39.5 983.5)rotate(-90)">Turbot Longline</text></g>
<g id="turbot-trawl"><rect class="sh" x="130" y="1005" width="15" height="69"/><rect class="bx" x="128" y="1007" width="15" height="69"/><text class="a" transform="translate(135.5 1041.5)rotate(-90)">Turbot Trawl</text></g>
<g id="sablefish-longline"><rect class="sh" x="44" y="1081" width="15" height="99"/><rect class="bx" x="42" y="1083" width="15" height="99"/><text class="a" transform="translate(49.5 1132.5)rotate(-90)">Sablefish Longline</text></g>
<g id="rockfish-trawl"><rect class="sh" x="191" y="1039" width="15" height="82"/><rect class="bx" x="189" y="1041" width="15" height="82"/><text class="a" transform="translate(196.5 1082)rotate(-90)">Rockfish Trawl</text></g>
<g id="flatfish-trawl"><rect class="sh" x="215" y="1112" width="15" height="74"/><rect class="bx" x="213" y="1114" width="15" height="74"/><text class="a" transform="translate(220.5 1151)rotate(-90)">Flatfish Trawl</text></g>
<g id="cod-trawl"><rect class="sh" x="153" y="1202" width="15" height="57"/><rect class="bx" x="151" y="1204" width="15" height="57"/><text class="a" transform="translate(158.5 1232.5)rotate(-90)">Cod Trawl</text></g>
<g id="crab-pots"><rect class="sh" x="285" y="1202" width="15" height="56"/><rect class="bx" x="283" y="1204" width="15" height="56"/><text class="a" transform="translate(290.5 1232)rotate(-90)">Crab Pots</text></g>
<g id="gr-turbot"><rect class="sh" x="225" y="945" width="15" height="56"/><rect class="bx" x="223" y="947" width="15" height="56"/><text class="a" transform="translate(230.5 975)rotate(-90)">Gr. Turbot</text></g>
<g id="wintering-seals"><rect class="sh" x="248" y="993" width="15" height="85"/><rect class="bx" x="246" y="995" width="15" height="85"/><text class="a" transform="translate(253.5 1037.5)rotate(-90)">Wintering seals</text></g>
<g id="rougheye-rock"><rect class="sh" x="310" y="986" width="15" height="86"/><rect class="bx" x="308" y="988" width="15" height="86"/><text class="a" transform="translate(315.5 1031)rotate(-90)">Rougheye Rock</text></g>
<g id="lg-sculpins"><rect class="sh" x="378" y="1041" width="16" height="69"/><rect class="bx" x="376" y="1043" width="16" height="69"/><text class="a" transform="translate(384 1077.5)rotate(-90)">Lg. Sculpins</text></g>
<g id="greenlings"><rect class="sh" x="323" y="1406" width="15" height="59"/><rect class="bx" x="321" y="1408" width="15" height="59"/><text class="a" transform="translate(328.5 1437.5)rotate(-90)">Greenlings</text></g>
<g id="salmon-fishery"><rect class="sh" x="183" y="1646" width="16" height="85"/><rect class="bx" x="181" y="1648" width="16" height="85"/><text class="a" transform="translate(189 1690.5)rotate(-90)">Salmon Fishery</text></g>
<g id="other-skates"><rect class="sh" x="277" y="1510" width="15" height="71"/><rect class="bx" x="275" y="1512" width="15" height="71"/><text class="a" transform="translate(282.5 1547.5)rotate(-90)">Other skates</text></g>
<g id="grenadiers"><rect class="sh" x="309" y="1467" width="16" height="68"/><rect class="bx" x="307" y="1469" width="16" height="68"/><text class="a" transform="translate(315 1503)rotate(-90)">Grenadiers</text></g>
<g id="other-sculpins"><rect class="sh" x="409" y="1418" width="17" height="87"/><rect class="bx" x="407" y="1420" width="17" height="87"/><text class="b" transform="translate(415.5 1463.5)rotate(-90)">Other sculpins</text></g>
<g id="misc-flatfish"><rect class="sh" x="450" y="1455" width="15" height="72"/><rect class="bx" x="448" y="1457" width="15" height="72"/><text class="a" transform="translate(455.5 1493)rotate(-90)">Misc. Flatfish</text></g>
<g id="dover-sole"><rect class="sh" x="435" y="1528" width="15" height="62"/><rect class="bx" x="433" y="1530" width="15" height="62"/><text class="a" transform="translate(440.5 1561)rotate(-90)">Dover Sole</text></g>
<g id="gray-whales"><rect class="sh" x="495" y="1597" width="15" height="72"/><rect class="bx" x="493" y="1599" width="15" height="72"/><text class="a" transform="translate(500.5 1635)rotate(-90)">Gray Whales</text></g>
<g id="king-crab"><rect class="sh" x="521" y="1660" width="16" height="55"/><rect class="bx" x="519" y="1662" width="16" height="55"/><text class="a" transform="translate(527 1689.5)rotate(-90)">King Crab</text></g>
<g id="misc-crabs"><rect class="sh" x="574" y="1412" width="15" height="60"/><rect class="bx" x="572" y="1414" width="15" height="60"/><text class="a" transform="translate(579.5 1444)rotate(-90)">Misc. crabs</text></g>
<g id="shortspine-thorns"><rect class="sh" x="496" y="1335" width="15" height="100"/><rect class="bx" x="494" y="1337" width="15" height="100"/><text class="a" transform="translate(501.5 1387)rotate(-90)">Shortspine Thorns</text></g>
<g id="p-cod-juv"><rect class="sh" x="478" y="1371" width="15" height="65"/><rect class="bx" x="476" y="1373" width="15" height="65"/><text class="a" transform="translate(483.5 1405.5)rotate(-90)">P. Cod_Juv</text></g>
<g id="eelpouts"><rect class="sh" x="509" y="1396" width="24" height="92"/><rect class="bx" x="507" y="1398" width="24" height="92"/><text font-size="17" transform="translate(519 1444)rotate(-90)">Eelpouts</text></g>
<g id="np-shrimp"><rect class="sh" x="600" y="1500" width="58" height="243"/><rect class="bx" x="597" y="1503" width="58" height="243"/><text font-size="42" transform="translate(626 1635)rotate(-90)">NP shrimp</text></g>
<g id="misc-worms"><rect class="sh" x="694" y="1576" width="31" height="158"/><rect class="bx" x="692" y="1578" width="31" height="158"/><text font-size="22" transform="translate(707.5 1666)rotate(-90)">Misc. worms</text></g>
<g id="anemones"><rect class="sh" x="731" y="1617" width="16" height="59"/><rect class="bx" x="729" y="1619" width="16" height="59"/><text class="a" transform="translate(737 1648.5)rotate(-90)">Anemones</text></g>
<g id="corals"><rect class="sh" x="685" y="1452" width="15" height="37"/><rect class="bx" x="683" y="1454" width="15" height="37"/><text class="a" transform="translate(690.5 1472.5)rotate(-90)">Corals</text></g>
<g id="urochordata"><rect class="sh" x="706" y="1471" width="15" height="68"/><rect class="bx" x="704" y="1473" width="15" height="68"/><text class="a" transform="translate(711.5 1507)rotate(-90)">Urochordata</text></g>
<g id="hydroids"><rect class="sh" x="706" y="1411" width="16" height="48"/><rect class="bx" x="704" y="1413" width="16" height="48"/><text class="a" transform="translate(712 1437)rotate(-90)">Hydroids</text></g>
<g id="sponges"><rect class="sh" x="730" y="1410" width="15" height="49"/><rect class="bx" x="728" y="1412" width="15" height="49"/><text class="a" transform="translate(735.5 1436.5)rotate(-90)">Sponges</text></g>
<g id="pandalidae"><rect class="sh" x="594" y="1273" width="42" height="188"/><rect class="bx" x="592" y="1275" width="42" height="188"/><text font-size="30" transform="translate(613 1372)rotate(-90)">Pandalidae</text></g>
<g id="n-rock-sole"><rect class="sh" x="438" y="1271" width="32" height="149"/><rect class="bx" x="436" y="1273" width="32" height="149"/><text font-size="22" transform="translate(452 1348)rotate(-90)">N. Rock sole</text></g>
<g id="yf-sole-juv"><rect class="sh" x="440" y="940" width="15" height="69"/><rect class="bx" x="438" y="942" width="15" height="69"/><text class="a" transform="translate(445.5 976.5)rotate(-90)">YF. Sole_Juv</text></g>
<g id="walrus-bd-seals"><rect class="sh" x="467" y="886" width="15" height="92"/><rect class="bx" x="465" y="888" width="15" height="92"/><text class="a" transform="translate(472.5 934)rotate(-90)">Walrus Bd Seals</text></g>
<g id="bowhead-whales"><rect class="sh" x="493" y="883" width="15" height="97"/><rect class="bx" x="491" y="885" width="15" height="97"/><text class="a" transform="translate(498.5 933.5)rotate(-90)">Bowhead Whales</text></g>
<g id="atka-mackerel-juv"><rect class="sh" x="513" y="911" width="15" height="102"/><rect class="bx" x="511" y="913" width="15" height="102"/><text class="a" transform="translate(518.5 964)rotate(-90)">Atka mackerel_Juv</text></g>
<g id="king-crab-juv"><rect class="sh" x="541" y="891" width="15" height="80"/><rect class="bx" x="539" y="893" width="15" height="80"/><text class="a" transform="translate(546.5 933)rotate(-90)">King Crab_Juv</text></g>
<g id="bairdi-juv"><rect class="sh" x="564" y="918" width="15" height="57"/><rect class="bx" x="562" y="920" width="15" height="57"/><text class="a" transform="translate(569.5 948.5)rotate(-90)">Bairdi_Juv</text></g>
<g id="opilio-juv"><rect class="sh" x="655" y="903" width="15" height="57"/><rect class="bx" x="653" y="905" width="15" height="57"/><text class="a" transform="translate(660.5 933.5)rotate(-90)">Opilio_Juv</text></g>
<g id="snails"><rect class="sh" x="626" y="900" width="15" height="35"/><rect class="bx" x="624" y="902" width="15" height="35"/><text class="a" transform="translate(631.5 919.5)rotate(-90)">Snails</text></g>
<g id="rex-sole"><rect class="sh" x="425" y="1042" width="15" height="49"/><rect class="bx" x="423" y="1044" width="15" height="49"/><text class="a" transform="translate(430.5 1068.5)rotate(-90)">Rex Sole</text></g>
<g id="sea-otters"><rect class="sh" x="447" y="1016" width="15" height="59"/><rect class="bx" x="445" y="1018" width="15" height="59"/><text class="a" transform="translate(452.5 1047.5)rotate(-90)">Sea Otters</text></g>
<g id="northern-rock"><rect class="sh" x="470" y="1004" width="15" height="79"/><rect class="bx" x="468" y="1006" width="15" height="79"/><text class="a" transform="translate(475.5 1045.5)rotate(-90)">Northern Rock</text></g>
<g id="fh-sole-juv"><rect class="sh" x="486" y="1017" width="15" height="73"/><rect class="bx" x="484" y="1019" width="15" height="73"/><text class="a" transform="translate(491.5 1055.5)rotate(-90)">FH. Sole_Juv</text></g>
<g id="n-rock-sole-juv"><rect class="sh" x="503" y="1056" width="15" height="94"/><rect class="bx" x="501" y="1058" width="15" height="94"/><text class="a" transform="translate(508.5 1105)rotate(-90)">N. Rock sole_Juv</text></g>
<g id="opilio"><rect class="sh" x="526" y="1038" width="23" height="52"/><rect class="bx" x="524" y="1040" width="23" height="52"/><text font-size="17" transform="translate(535.5 1066)rotate(-90)">Opilio</text></g>
<g id="octopi"><rect class="sh" x="430" y="1105" width="15" height="40"/><rect class="bx" x="428" y="1107" width="15" height="40"/><text class="a" transform="translate(435.5 1127)rotate(-90)">Octopi</text></g>
<g id="ak-plaice"><rect class="sh" x="461" y="1131" width="19" height="66"/><rect class="bx" x="459" y="1133" width="19" height="66"/><text class="bd" font-size="12" transform="translate(468.5 1166)rotate(-90)">AK Plaice</text></g>
<g id="p-halibut-juv"><rect class="sh" x="429" y="1152" width="16" height="78"/><rect class="bx" x="427" y="1154" width="16" height="78"/><text class="a" transform="translate(435 1193)rotate(-90)">P. Halibut_Juv</text></g>
<g id="shortraker-rock"><rect class="sh" x="410" y="1178" width="15" height="90"/><rect class="bx" x="408" y="1180" width="15" height="90"/><text class="a" transform="translate(415.5 1225)rotate(-90)">Shortraker Rock</text></g>
<g id="fh-sole"><rect class="sh" x="456" y="1199" width="19" height="62"/><rect class="bx" x="454" y="1201" width="19" height="62"/><text class="bd" font-size="12" transform="translate(463.5 1232)rotate(-90)">FH. Sole</text></g>
<g id="sea-stars"><rect class="sh" x="486" y="1162" width="27" height="91"/><rect class="bx" x="484" y="1164" width="27" height="91"/><text font-size="18" transform="translate(497.5 1209.5)rotate(-90)">Sea stars</text></g>
<g id="bairdi"><rect class="sh" x="529" y="1187" width="15" height="27"/><rect class="bx" x="527" y="1189" width="15" height="27"/><text font-size="8.5" transform="translate(534.5 1202.5)rotate(-90)">Bairdi</text></g>
<g id="yf-sole"><rect class="sh" x="539" y="1241" width="37" height="126"/><rect class="bx" x="537" y="1243" width="37" height="126"/><text font-size="27" transform="translate(555.5 1306)rotate(-90)">YF. Sole</text></g>
<g id="polychaetes"><rect class="sh" x="651" y="1001" width="76" height="378"/><rect class="bx" x="648" y="1004" width="76" height="378"/><text font-size="56" transform="translate(686 1207)rotate(-90)">Polychaetes</text></g>
<g id="bivalves"><rect class="sh" x="743" y="967" width="85" height="283"/><rect class="bx" x="740" y="970" width="85" height="283"/><text font-size="62" transform="translate(783 1122)rotate(-90)">Bivalves</text></g>
<g id="benthic-amphipods"><rect class="sh" x="752" y="1329" width="59" height="443"/><rect class="bx" x="749" y="1332" width="59" height="443"/><text font-size="43" transform="translate(778.5 1572)rotate(-90)">Benthic Amphipods</text></g>
<g id="misc-crustacean"><rect class="sh" x="851" y="940" width="49" height="329"/><rect class="bx" x="848" y="943" width="49" height="329"/><text font-size="35" transform="translate(872.5 1120)rotate(-90)">Misc. Crustacean</text></g>
<g id="pelagic-amphipods"><rect class="sh" x="907" y="950" width="20" height="148"/><rect class="bx" x="905" y="952" width="20" height="148"/><text font-size="14" transform="translate(915 1032)rotate(-90)">Pelagic Amphipods</text></g>
<g id="macroalgae"><rect class="sh" x="1092" y="987" width="15" height="64"/><rect class="bx" x="1090" y="989" width="15" height="64"/><text class="a" transform="translate(1097.5 1021)rotate(-90)">Macroalgae</text></g>
<g id="pelagic-detritus"><rect class="sh" x="1092" y="1120" width="15" height="86"/><rect class="bx" x="1090" y="1122" width="15" height="86"/><text class="a" transform="translate(1097.5 1165)rotate(-90)">Pelagic Detritus</text></g>
<g id="discards"><rect class="sh" x="1092" y="1250" width="15" height="50"/><rect class="bx" x="1090" y="1252" width="15" height="50"/><text class="a" transform="translate(1097.5 1277)rotate(-90)">Discards</text></g>
<g id="offal"><rect class="sh" x="1092" y="1352" width="15" height="27"/><rect class="bx" x="1090" y="1354" width="15" height="27"/><text class="a" transform="translate(1097.5 1367.5)rotate(-90)">Offal</text></g>
<g id="urchins-dollars-cucumbers"><rect class="sh" x="902" y="1175" width="18" height="177"/><rect class="bx" x="900" y="1177" width="18" height="177"/><text class="bd" font-size="11" transform="translate(909 1265.5)rotate(-90)">Urchins dollars cucumbers</text></g>
<g id="benthic-microbes"><rect class="sh" x="923" y="1189" width="78" height="534"/><rect class="bx" x="920" y="1192" width="78" height="534"/><text font-size="57" transform="translate(959 1478)rotate(-90)">Benthic microbes</text></g>
<g id="sea-pens"><rect class="sh" x="823" y="1578" width="15" height="54"/><rect class="bx" x="821" y="1580" width="15" height="54"/><text font-size="9.5" transform="translate(828.5 1607)rotate(-90)">Sea Pens</text></g>
<g id="brittle-stars"><rect class="sh" x="852" y="1479" width="28" height="124"/><rect class="bx" x="850" y="1481" width="28" height="124"/><text font-size="20" transform="translate(864 1547.5)rotate(-90)">Brittle stars</text></g>
<g id="benthic-detritus"><rect class="sh" x="1092" y="1435" width="15" height="87"/><rect class="bx" x="1090" y="1437" width="15" height="87"/><text class="a" transform="translate(1097.5 1480.5)rotate(-90)">Benthic Detritus</text></g>
<g id="arrowtooth-juv"><rect class="sh" x="385" y="639" width="15" height="84"/><rect class="bx" x="383" y="641" width="15" height="84"/><text class="a" transform="translate(390.5 683)rotate(-90)">Arrowtooth_Juv</text></g>
<g id="salmon-returning"><rect class="sh" x="413" y="579" width="16" height="93"/><rect class="bx" x="411" y="581" width="16" height="93"/><text class="a" transform="translate(419 627.5)rotate(-90)">Salmon returning</text></g>
<g id="other-sebastes"><rect class="sh" x="434" y="620" width="15" height="86"/><rect class="bx" x="432" y="622" width="15" height="86"/><text class="a" transform="translate(439.5 665)rotate(-90)">Other Sebastes</text></g>
<g id="sei-whales"><rect class="sh" x="447" y="545" width="15" height="59"/><rect class="bx" x="445" y="547" width="15" height="59"/><text class="a" transform="translate(452.5 576.5)rotate(-90)">Sei whales</text></g>
<g id="auklets"><rect class="sh" x="480" y="521" width="15" height="41"/><rect class="bx" x="478" y="523" width="15" height="41"/><text class="a" transform="translate(485.5 543.5)rotate(-90)">Auklets</text></g>
<g id="salmon-outgoing"><rect class="sh" x="503" y="474" width="15" height="92"/><rect class="bx" x="501" y="476" width="15" height="92"/><text class="a" transform="translate(508.5 522)rotate(-90)">Salmon outgoing</text></g>
<g id="bathylagidae"><rect class="sh" x="527" y="477" width="15" height="70"/><rect class="bx" x="525" y="479" width="15" height="70"/><text class="a" transform="translate(532.5 514)rotate(-90)">Bathylagidae</text></g>
<g id="chaetognaths"><rect class="sh" x="612" y="491" width="15" height="76"/><rect class="bx" x="610" y="493" width="15" height="76"/><text class="a" transform="translate(617.5 531)rotate(-90)">Chaetognaths</text></g>
<g id="euphausiids"><rect class="sh" x="657" y="490" width="65" height="313"/><rect class="bx" x="654" y="493" width="65" height="313"/><text font-size="46" transform="translate(686.5 663.5)rotate(-90)">Euphausiids</text></g>
<g id="w-pollock-juv"><rect class="sh" x="481" y="584" width="28" height="159"/><rect class="bx" x="479" y="586" width="28" height="159"/><text font-size="20" transform="translate(493 673.5)rotate(-90)">W. Pollock_Juv</text></g>
<g id="scyphozoid-jellies"><rect class="sh" x="515" y="619" width="15" height="101"/><rect class="bx" x="513" y="621" width="15" height="101"/><text class="a" transform="translate(520.5 671.5)rotate(-90)">Scyphozoid Jellies</text></g>
<g id="gr-turbot-juv"><rect class="sh" x="455" y="661" width="15" height="84"/><rect class="bx" x="453" y="663" width="15" height="84"/><text class="a" transform="translate(460.5 705)rotate(-90)">Gr. Turbot_Juv</text></g>
<g id="squids"><rect class="sh" x="455" y="745" width="15" height="42"/><rect class="bx" x="453" y="747" width="15" height="42"/><text class="a" transform="translate(460.5 768)rotate(-90)">Squids</text></g>
<g id="pop"><rect class="sh" x="461" y="805" width="15" height="28"/><rect class="bx" x="459" y="807" width="15" height="28"/><text class="a" transform="translate(466.5 821)rotate(-90)">POP</text></g>
<g id="atka-mackerel"><rect class="sh" x="477" y="775" width="15" height="77"/><rect class="bx" x="475" y="777" width="15" height="77"/><text class="a" transform="translate(482.5 815.5)rotate(-90)">Atka mackerel</text></g>
<g id="dusky-rock"><rect class="sh" x="493" y="810" width="15" height="66"/><rect class="bx" x="491" y="812" width="15" height="66"/><text class="a" transform="translate(498.5 845)rotate(-90)">Dusky Rock</text></g>
<g id="sandlance"><rect class="sh" x="512" y="775" width="27" height="102"/><rect class="bx" x="510" y="777" width="27" height="102"/><text font-size="18" transform="translate(523.5 831.5)rotate(-90)">Sandlance</text></g>
<g id="myctophidae"><rect class="sh" x="558" y="771" width="15" height="67"/><rect class="bx" x="556" y="773" width="15" height="67"/><text class="a" transform="translate(563.5 806.5)rotate(-90)">Myctophidae</text></g>
<g id="hermit-crabs"><rect class="sh" x="583" y="828" width="20" height="99"/><rect class="bx" x="581" y="830" width="20" height="99"/><text class="bd" font-size="13.5" transform="translate(591 884)rotate(-90)">Hermit crabs</text></g>
<g id="sablefish-juv"><rect class="sh" x="444" y="847" width="15" height="76"/><rect class="bx" x="442" y="849" width="15" height="76"/><text class="a" transform="translate(449.5 887)rotate(-90)">Sablefish_Juv</text></g>
<g id="fish-larvae"><rect class="sh" x="728" y="791" width="15" height="65"/><rect class="bx" x="726" y="793" width="15" height="65"/><text class="a" transform="translate(733.5 825.5)rotate(-90)">Fish Larvae</text></g>
<g id="mysids"><rect class="sh" x="757" y="598" width="15" height="43"/><rect class="bx" x="755" y="600" width="15" height="43"/><text class="a" transform="translate(762.5 621.5)rotate(-90)">Mysids</text></g>
<g id="pteropods"><rect class="sh" x="757" y="484" width="15" height="57"/><rect class="bx" x="755" y="486" width="15" height="57"/><text class="a" transform="translate(762.5 514.5)rotate(-90)">Pteropods</text></g>
<g id="lg-phytoplankton"><rect class="sh" x="977" y="726" width="34" height="209"/><rect class="bx" x="975" y="728" width="34" height="209"/><text font-size="20" transform="translate(992 836)rotate(-90)">Lg Phytoplankton</text></g>
</g>
<g id="axis-labels">
<text class="tk" transform="translate(147 1794)rotate(-90)">5.0</text>
<text class="tk" transform="translate(267 1794)rotate(-90)">4.5</text>
<text class="tk" transform="translate(385 1794)rotate(-90)">4.0</text>
<text class="tk" transform="translate(504 1794)rotate(-90)">3.5</text>
<text class="tk" transform="translate(623 1794)rotate(-90)">3.0</text>
<text class="tk" transform="translate(742 1794)rotate(-90)">2.5</text>
<text class="tk" transform="translate(861 1794)rotate(-90)">2.0</text>
<text class="tk" transform="translate(979 1794)rotate(-90)">1.5</text>
<text class="tk" transform="translate(1098 1794)rotate(-90)">1.0</text>
<text font-size="29" font-weight="bold" transform="translate(619 1857)rotate(180)">Trophic Level</text>
</g>
</svg>
